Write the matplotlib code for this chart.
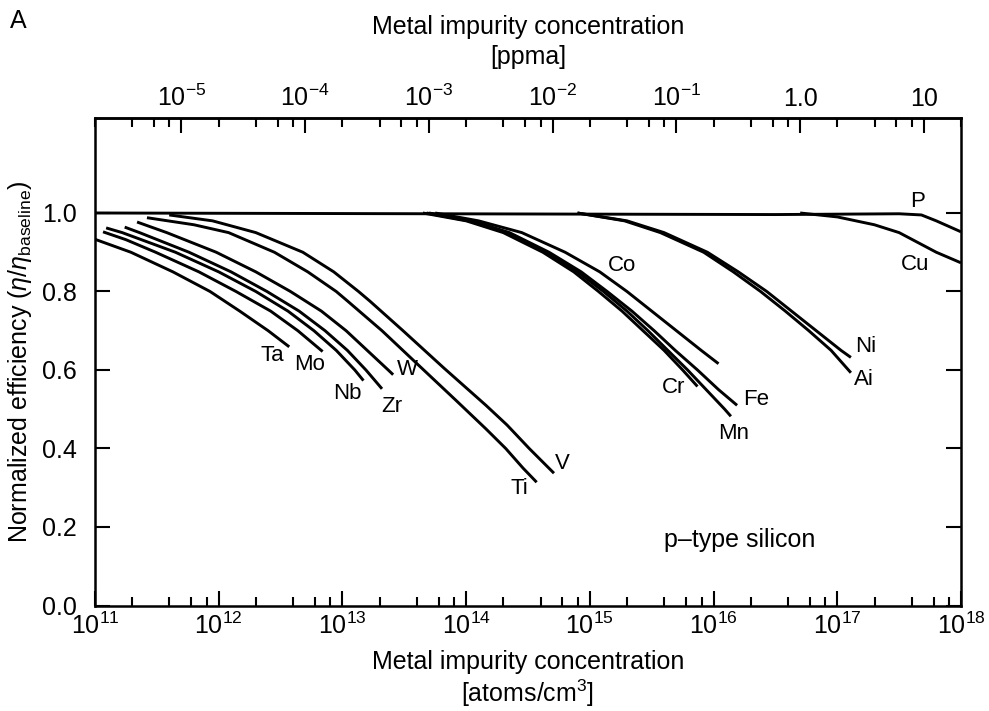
import numpy as np
import matplotlib
matplotlib.use("Agg")
import matplotlib.pyplot as plt
from matplotlib.ticker import FixedLocator, NullFormatter, FixedFormatter

plt.rcParams['font.family'] = ['Liberation Sans', 'DejaVu Sans']
plt.rcParams['mathtext.fontset'] = 'custom'
plt.rcParams['mathtext.rm'] = 'Liberation Sans'
plt.rcParams['mathtext.it'] = 'Liberation Sans:italic'
plt.rcParams['mathtext.bf'] = 'Liberation Sans:bold'

# ---- data: log10(concentration, atoms/cm3) and normalized efficiency ----
ta_lx = [11.00, 11.29, 11.63, 11.93, 12.17, 12.40, 12.57]
ta_y  = [0.933, 0.900, 0.850, 0.800, 0.750, 0.700, 0.659]
mo_lx = [11.065, 11.25, 11.49, 11.84, 12.14, 12.42, 12.64, 12.84]
mo_y  = [0.952, 0.932, 0.900, 0.850, 0.800, 0.750, 0.700, 0.647]
nb_lx = [11.09, 11.22, 11.65, 12.00, 12.30, 12.56, 12.77, 12.95, 13.10, 13.17]
nb_y  = [0.962, 0.950, 0.900, 0.850, 0.800, 0.750, 0.700, 0.650, 0.600, 0.573]
zr_lx = [11.24, 11.36, 11.76, 12.10, 12.39, 12.65, 12.86, 13.04, 13.19, 13.32]
zr_y  = [0.964, 0.950, 0.900, 0.850, 0.800, 0.750, 0.700, 0.650, 0.600, 0.552]
w_lx  = [11.34, 11.58, 11.98, 12.30, 12.58, 12.83, 13.03, 13.20, 13.37, 13.41]
w_y   = [0.977, 0.950, 0.900, 0.850, 0.800, 0.750, 0.700, 0.650, 0.600, 0.588]
ti_lx = [11.42, 11.80, 12.08, 12.45, 12.72, 12.95, 13.04, 13.32, 13.64, 13.92, 14.16, 14.32, 14.46, 14.57]
ti_y  = [0.988, 0.970, 0.950, 0.900, 0.850, 0.800, 0.776, 0.700, 0.605, 0.522, 0.450, 0.400, 0.350, 0.314]
v_lx  = [11.60, 11.95, 12.30, 12.68, 12.93, 13.13, 13.22, 13.49, 13.82, 14.16, 14.33, 14.51, 14.71]
v_y   = [0.995, 0.980, 0.950, 0.900, 0.850, 0.800, 0.776, 0.700, 0.605, 0.510, 0.460, 0.400, 0.337]
co_lx = [13.75, 14.10, 14.45, 14.80, 15.08, 15.30, 15.50, 15.70, 15.90, 16.04]
co_y  = [1.000, 0.980, 0.950, 0.900, 0.850, 0.800, 0.750, 0.700, 0.650, 0.616]
cr_lx = [13.65, 14.00, 14.30, 14.62, 14.87, 15.07, 15.26, 15.43, 15.60, 15.75, 15.87]
cr_y  = [1.000, 0.980, 0.950, 0.900, 0.850, 0.800, 0.750, 0.700, 0.650, 0.600, 0.558]
fe_lx = [13.70, 14.05, 14.35, 14.67, 14.93, 15.14, 15.34, 15.52, 15.69, 15.87, 16.04, 16.19]
fe_y  = [1.000, 0.980, 0.950, 0.900, 0.850, 0.800, 0.750, 0.700, 0.650, 0.600, 0.550, 0.510]
mn_lx = [13.68, 14.02, 14.32, 14.64, 14.90, 15.11, 15.30, 15.47, 15.63, 15.79, 15.94, 16.09, 16.14]
mn_y  = [1.000, 0.980, 0.950, 0.900, 0.850, 0.800, 0.750, 0.700, 0.650, 0.600, 0.550, 0.500, 0.482]
ni_lx = [14.90, 15.30, 15.60, 15.95, 16.20, 16.43, 16.63, 16.83, 17.03, 17.11]
ni_y  = [1.000, 0.980, 0.950, 0.900, 0.850, 0.800, 0.750, 0.700, 0.650, 0.632]
ai_lx = [14.90, 15.28, 15.57, 15.92, 16.16, 16.38, 16.58, 16.77, 16.95, 17.11]
ai_y  = [1.000, 0.980, 0.950, 0.900, 0.850, 0.800, 0.750, 0.700, 0.650, 0.593]
cu_lx = [16.70, 17.00, 17.30, 17.50, 17.62, 17.80, 18.00]
cu_y  = [1.000, 0.990, 0.970, 0.950, 0.930, 0.900, 0.873]
p_lx  = [11.00, 16.50, 17.50, 17.68, 17.80, 17.90, 18.00]
p_y   = [1.000, 0.996, 0.998, 0.995, 0.980, 0.966, 0.952]

series = [
    ("Ta", ta_lx, ta_y), ("Mo", mo_lx, mo_y), ("Nb", nb_lx, nb_y),
    ("Zr", zr_lx, zr_y), ("W", w_lx, w_y), ("Ti", ti_lx, ti_y),
    ("V", v_lx, v_y), ("Co", co_lx, co_y), ("Cr", cr_lx, cr_y),
    ("Fe", fe_lx, fe_y), ("Mn", mn_lx, mn_y), ("Ni", ni_lx, ni_y),
    ("Ai", ai_lx, ai_y), ("Cu", cu_lx, cu_y), ("P", p_lx, p_y),
]

# label positions (log10 x, y)
label_pos = {
    "Ta": (12.431, 0.638), "Mo": (12.738, 0.613), "Nb": (13.037, 0.541),
    "Zr": (13.401, 0.508), "W": (13.522, 0.600), "Ti": (14.428, 0.299),
    "V": (14.776, 0.363), "Co": (15.260, 0.867), "Cr": (15.673, 0.556),
    "Fe": (16.344, 0.526), "Mn": (16.166, 0.439), "Ni": (17.233, 0.659),
    "Ai": (17.217, 0.577), "P": (17.645, 1.028), "Cu": (17.629, 0.868),
}

bottom_ticks = [1e11, 1e12, 1e13, 1e14, 1e15, 1e16, 1e17, 1e18]
bottom_labels = [r'$10^{11}$', r'$10^{12}$', r'$10^{13}$', r'$10^{14}$',
                 r'$10^{15}$', r'$10^{16}$', r'$10^{17}$', r'$10^{18}$']
top_ticks = [1e-5, 1e-4, 1e-3, 1e-2, 1e-1, 1.0, 10.0]
top_labels = [r'$10^{-5}$', r'$10^{-4}$', r'$10^{-3}$', r'$10^{-2}$',
              r'$10^{-1}$', '1.0', '10']
y_ticks = [0.0, 0.2, 0.4, 0.6, 0.8, 1.0]
SI_DENSITY_PPMA = 5e16  # atoms/cm3 per ppma

fig = plt.figure(figsize=(9.89, 7.11), dpi=100)
ax = fig.add_axes([95/989, (711-605.5)/711, (961-95)/989, (605.5-118)/711])

for name, lx, y in series:
    ax.plot(10**np.array(lx), y, color='black', lw=2.1,
            solid_capstyle='butt', solid_joinstyle='round')

fs = 18
lfs = 16
for name, (lx, y) in label_pos.items():
    ax.text(10**lx, y, name, fontsize=lfs, ha='center', va='center')

ax.text(10**16.21, 0.166, 'p–type silicon', fontsize=fs, ha='center', va='center')

ax.set_xscale('log')
ax.set_xlim(1e11, 1e18)
ax.set_ylim(0, 1.242)

ax.xaxis.set_major_locator(FixedLocator(bottom_ticks))
ax.xaxis.set_major_formatter(FixedFormatter(bottom_labels))
minor = [m * 10**e for e in range(11, 18) for m in (2, 4, 6, 8)]
ax.xaxis.set_minor_locator(FixedLocator(minor))
ax.xaxis.set_minor_formatter(NullFormatter())
ax.set_yticks(y_ticks)
ax.set_yticklabels([f'{v:.1f}' for v in y_ticks])

ax.tick_params(axis='both', which='major', direction='in', length=11, width=1.5,
               labelsize=fs, right=True)
ax.tick_params(axis='x', which='minor', direction='in', length=6.5, width=1.5)
ax.tick_params(axis='x', which='major', pad=5)
ax.tick_params(axis='y', which='major', pad=13)
for s in ax.spines.values():
    s.set_linewidth(1.8)

sec = ax.secondary_xaxis('top', functions=(lambda x: x / SI_DENSITY_PPMA,
                                            lambda p: p * SI_DENSITY_PPMA))
sec.xaxis.set_major_locator(FixedLocator(top_ticks))
sec.xaxis.set_major_formatter(FixedFormatter(top_labels))
top_minor = [m * 10**e for e in range(-6, 2) for m in (2, 4, 6, 8)]
sec.xaxis.set_minor_locator(FixedLocator(top_minor))
sec.xaxis.set_minor_formatter(NullFormatter())
sec.tick_params(axis='x', which='major', direction='in', length=11, width=1.5,
                labelsize=fs, pad=5)
sec.tick_params(axis='x', which='minor', direction='in', length=6.5, width=1.5)
sec.spines['top'].set_linewidth(1.8)
sec.set_xlabel('Metal impurity concentration\n[ppma]', fontsize=fs, labelpad=15,
               linespacing=1.3)

ax.set_xlabel('Metal impurity concentration\n' + r'[atoms/cm$^3$]', fontsize=fs,
              labelpad=8, linespacing=1.15)
ax.set_ylabel(r'Normalized efficiency ($\eta/\eta_{\mathrm{baseline}}$)', fontsize=18,
              labelpad=6)

fig.text(10/989, 1 - 21/711, 'A', fontsize=fs, ha='left', va='center')

fig.savefig('out.png', dpi=100)
